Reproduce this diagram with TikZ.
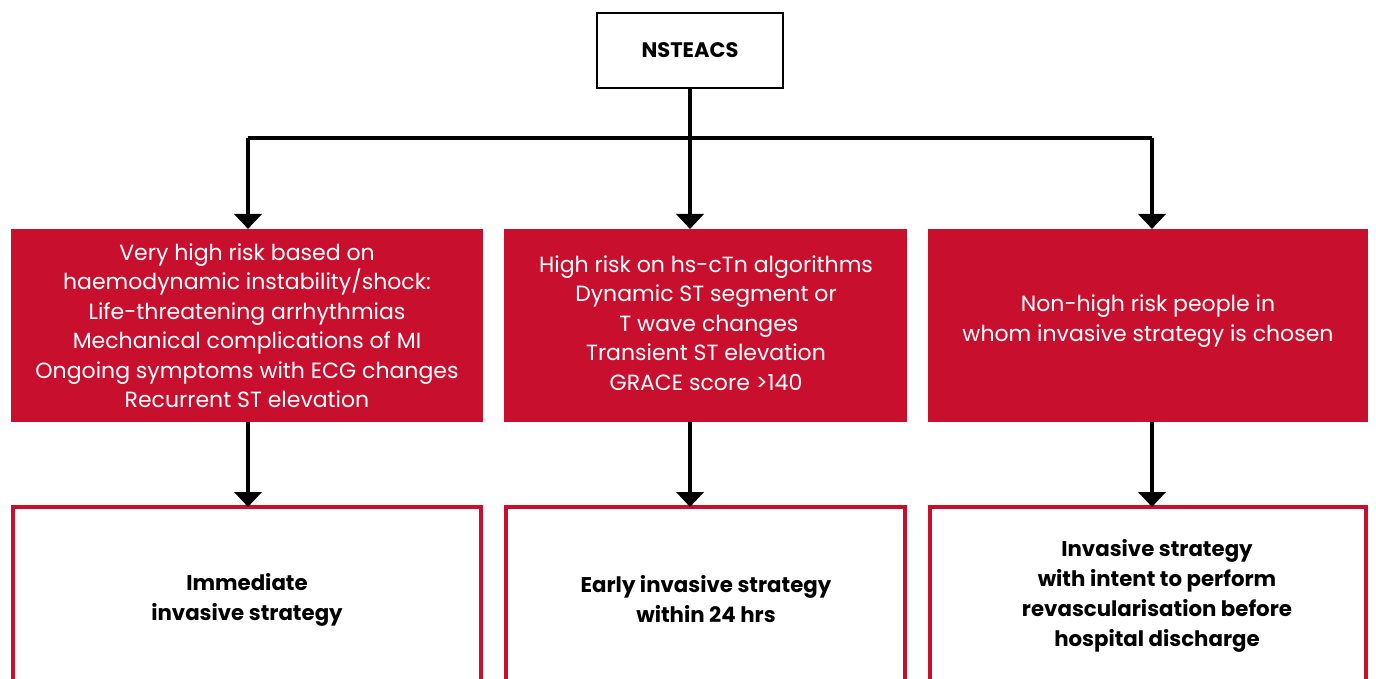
\documentclass[tikz,border=0pt]{standalone}
\usepackage{fontspec}
\setmainfont{Poppins}
\usetikzlibrary{arrows.meta}
\definecolor{rred}{HTML}{C8102E}
\begin{document}
\begin{tikzpicture}[x=1pt,y=-1pt,
  conn/.style={line width=4pt,-{Triangle[width=27pt,length=15pt]}},
  riskbox/.style={fill=rred,text=white,font=\fontsize{22}{29.5}\selectfont,align=center,inner sep=0pt},
  outbox/.style={draw=rred,line width=4pt},
  outtext/.style={font=\fontsize{21.3}{30}\selectfont\bfseries,align=center}]
\useasboundingbox (0,0) rectangle (1376,679);
\clip (0,0) rectangle (1376,679);
% top
\draw[line width=2.5pt] (597,13) rectangle (783,88);
\node[font=\fontsize{21}{24}\selectfont\bfseries] (top) at (690,50.5) {NSTEACS};
\coordinate (tb) at (690,88);
\coordinate (j) at (690,138);
\coordinate (jl) at (248,138);
\coordinate (jr) at (1152,138);
% red boxes
\fill[rred] (11,229) rectangle (483,422);
\fill[rred] (504,229) rectangle (907,422);
\fill[rred] (928,229) rectangle (1368,422);
\coordinate (r1t) at (248,229);
\coordinate (r2t) at (690,229);
\coordinate (r3t) at (1152,229);
\coordinate (r1b) at (248,422);
\coordinate (r2b) at (690,422);
\coordinate (r3b) at (1152,422);
\node[riskbox] (r1) at (247,325.5) {Very high risk based on\\haemodynamic instability/shock:\\Life-threatening arrhythmias\\Mechanical complications of MI\\Ongoing symptoms with ECG changes\\Recurrent ST elevation};
\node[riskbox] (r2) at (706,323) {High risk on hs-cTn algorithms\\Dynamic ST segment or\\ \ T wave changes\\Transient ST elevation\\GRACE score >140};
\node[riskbox] (r3) at (1148,321) {Non-high risk people in\\whom invasive strategy is chosen};
% outcome boxes
\draw[outbox] (13,507) rectangle (481,700);
\draw[outbox] (506,507) rectangle (905,700);
\draw[outbox] (930,507) rectangle (1366,700);
\coordinate (o1t) at (248,507);
\coordinate (o2t) at (690,507);
\coordinate (o3t) at (1152,507);
\node[outtext] (o1) at (247,599.5) {Immediate\\invasive strategy};
\node[outtext] (o2) at (706,599.5) {Early invasive strategy\\within 24 hrs};
\node[outtext] (o3) at (1157,596) {Invasive strategy\\with intent to perform\\revascularisation before\\hospital discharge};
% connectors
\draw[line width=4pt] (tb) -- (j);
\draw[line width=4pt,line join=miter] (jl) -- (jr);
\draw[conn,line join=miter] (jl|-j) -- (r1t);
\draw[conn] (j) -- (r2t);
\draw[conn] (jr) -- (r3t);
\draw[conn] (r1b) -- (o1t);
\draw[conn] (r2b) -- (o2t);
\draw[conn] (r3b) -- (o3t);
\end{tikzpicture}
\end{document}
